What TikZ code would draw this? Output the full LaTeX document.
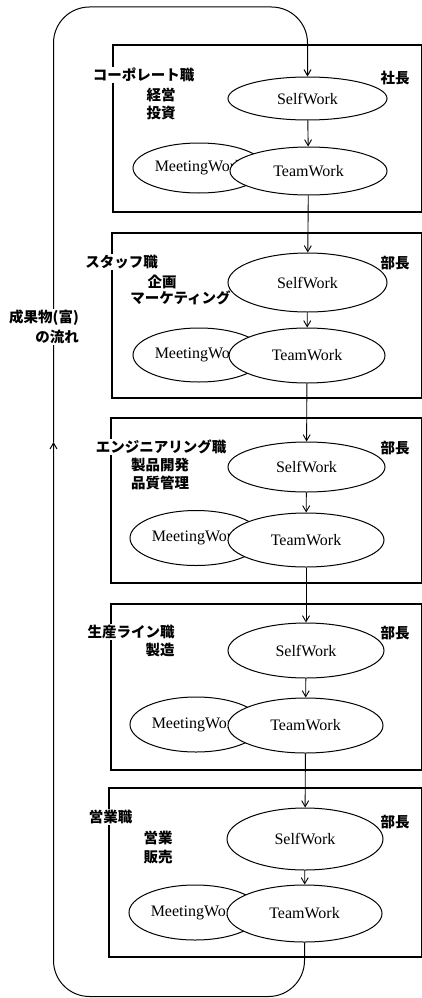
\documentclass[tikz,border=0pt]{standalone}
\usepackage{fontspec}
\setmainfont{Liberation Serif}
\newfontfamily\jp{Noto Sans CJK JP}
\usetikzlibrary{arrows.meta,shapes.geometric}
\tikzset{
  wk/.style={ellipse, draw, line width=1pt, fill=white, inner sep=0pt, font=\fontsize{16}{18}\selectfont},
  box/.style={draw, line width=1.1pt},
  jl/.style={font=\jp\bfseries\fontsize{14.5}{18}\selectfont, inner sep=1pt, fill=white},
  flow/.style={-{Straight Barb[length=6pt,width=7pt]}, line width=0.9pt},
  loopline/.style={line width=1pt, rounded corners=36pt},
}
\begin{document}
\begin{tikzpicture}[x=1pt,y=-1pt]
\useasboundingbox (0,0) rectangle (422,998);
% boxes
\draw[box] (113,45) rectangle (421.5,212);
\draw[box] (112,233) rectangle (421.5,398);
\draw[box] (111,418) rectangle (421.5,583);
\draw[box] (111,604) rectangle (421.5,770);
\draw[box] (109,788) rectangle (421.5,957);
% row 1
\node[jl] (t1) at (143.5,75) {コーポレート職};
\node[jl] (a1) at (161,95) {経営};
\node[jl] (b1) at (161,113) {投資};
\node[jl] (r1) at (395,78) {社長};
\node[wk, minimum width=132pt, minimum height=50pt] (M1) at (199,168) {MeetingWork};
\node[wk, minimum width=157pt, minimum height=48pt] (T1) at (308.5,171) {TeamWork};
\node[wk, minimum width=159pt, minimum height=43pt] (S1) at (307.5,98.5) {SelfWork};
% row 2
\node[jl] (t2) at (121.5,262) {スタッフ職};
\node[jl] (a2) at (162,282) {企画};
\node[jl] (b2) at (180.5,298) {マーケティング};
\node[jl] (r2) at (395,263) {部長};
\node[wk, minimum width=132pt, minimum height=54pt] (M2) at (199,355) {MeetingWork};
\node[wk, minimum width=156pt, minimum height=55pt] (T2) at (307,355.5) {TeamWork};
\node[wk, minimum width=159pt, minimum height=59pt] (S2) at (307.5,282.5) {SelfWork};
% row 3
\node[jl] (t3) at (161,447) {エンジニアリング職};
\node[jl] (a3) at (160,465) {製品開発};
\node[jl] (b3) at (160,483) {品質管理};
\node[jl] (r3) at (395,448) {部長};
\node[wk, minimum width=132pt, minimum height=55pt] (M3) at (196,538) {MeetingWork};
\node[wk, minimum width=156pt, minimum height=54pt] (T3) at (306,540) {TeamWork};
\node[wk, minimum width=157pt, minimum height=50pt] (S3) at (306.5,467) {SelfWork};
% row 4
\node[jl] (t4) at (131,632) {生産ライン職};
\node[jl] (a4) at (160,650) {製造};
\node[jl] (r4) at (395,633) {部長};
\node[wk, minimum width=132pt, minimum height=55pt] (M4) at (196,724.5) {MeetingWork};
\node[wk, minimum width=155pt, minimum height=55pt] (T4) at (305.5,725.5) {TeamWork};
\node[wk, minimum width=156pt, minimum height=55pt] (S4) at (306,650.5) {SelfWork};
% row 5
\node[jl] (t5) at (110.5,817) {営業職};
\node[jl] (a5) at (158,838) {営業};
\node[jl] (b5) at (158,857) {販売};
\node[jl] (r5) at (395,822) {部長};
\node[wk, minimum width=132pt, minimum height=55pt] (M5) at (195,912.5) {MeetingWork};
\node[wk, minimum width=155pt, minimum height=57pt] (T5) at (304.5,913.5) {TeamWork};
\node[wk, minimum width=156pt, minimum height=62pt] (S5) at (305,839) {SelfWork};
% connectors
\draw[flow] (S1) -- (T1);
\draw[flow] (T1) -- (S2);
\draw[flow] (S2) -- (T2);
\draw[flow] (T2) -- (S3);
\draw[flow] (S3) -- (T3);
\draw[flow] (T3) -- (S4);
\draw[flow] (S4) -- (T4);
\draw[flow] (T4) -- (S5);
\draw[flow] (S5) -- (T5);
% feedback loop
\coordinate (up) at (53.5,442);
\draw[flow, loopline] (T5.south) -- (304.5,996.5) -- (53.5,996.5) -- (up);
\draw[flow, loopline] (up) -- (53.5,7) -- (307.5,7) -- (S1.north);
\node[jl, align=right, anchor=east, font=\jp\bfseries\fontsize{14.5}{20}\selectfont] (fl) at (80,327) {成果物(富)\\の流れ};
\end{tikzpicture}
\end{document}
